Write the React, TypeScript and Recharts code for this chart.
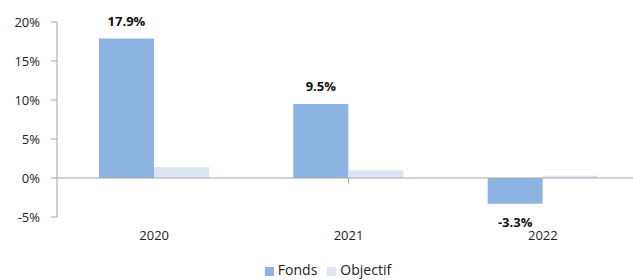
import React from 'react'
import { BarChart, Bar, XAxis, YAxis, Legend, ReferenceLine, LabelList } from 'recharts'

const years = ['2020', '2021', '2022']
const fonds = [17.9, 9.5, -3.3]
const objectif = [1.4, 1.0, 0.3]
const yTicks = [-5, 0, 5, 10, 15, 20]

const data = years.map((year, i) => ({ year, fonds: fonds[i], objectif: objectif[i] }))

const font = "'Open Sans', sans-serif"
const axisColor = '#a6a6a6'

const ValueLabel = (props: any) => {
  const { x, y, width, height, value } = props
  const neg = value < 0
  const cx = x + width / 2
  // y + height is the far end of the bar; for negatives that is below the zero line
  const top = Math.min(y, y + height)
  const bottom = Math.max(y, y + height)
  return (
    <text
      x={cx}
      y={neg ? bottom + 20 : top - 16}
      textAnchor="middle"
      dominantBaseline="middle"
      fontFamily={font}
      fontSize={13}
      fontWeight={700}
      fill="#111"
    >
      {value.toFixed(1) + '%'}
    </text>
  )
}

export default function App() {
  return (
    <div style={{ position: 'absolute', left: 0, top: 0, width: 633, height: 280, overflow: 'hidden', background: '#fff' }}>
      <BarChart
        width={640}
        height={280}
        data={data}
        margin={{ top: 22, right: 0, bottom: 0, left: 0 }}
        barCategoryGap="21.6%"
        barGap={0}
      >
        <XAxis
          dataKey="year"
          axisLine={false}
          tickLine={false}
          tickSize={0}
          tickMargin={14}
          height={43}
          tick={{ fontFamily: font, fontSize: 13, fill: '#222' }}
        />
        <XAxis xAxisId="grid" type="number" domain={[0, 3]} hide />
        <YAxis
          domain={[-5, 20]}
          ticks={yTicks}
          interval={0}
          width={57}
          tickSize={6}
          tickMargin={11}
          tickFormatter={(v: number) => v + '%'}
          axisLine={{ stroke: axisColor }}
          tickLine={{ stroke: axisColor }}
          tick={{ fontFamily: font, fontSize: 13, fill: '#222' }}
        />
        <ReferenceLine y={0} stroke={axisColor} />
        {[1, 2].map((b) => (
          <ReferenceLine
            key={b}
            xAxisId="grid"
            stroke={axisColor}
            segment={[{ x: b, y: 0 }, { x: b, y: -0.7 }]}
          />
        ))}
        <Legend
          verticalAlign="bottom"
          align="center"
          iconType="square"
          iconSize={9}
          height={20}
          wrapperStyle={{ fontFamily: font, fontSize: 14, paddingLeft: 13 }}
          formatter={(v: string) => <span style={{ color: '#222' }}>{v}</span>}
        />
        <Bar dataKey="fonds" name="Fonds" fill="#8db3e2" isAnimationActive={false}>
          <LabelList dataKey="fonds" content={ValueLabel} />
        </Bar>
        <Bar dataKey="objectif" name="Objectif" fill="#dce6f2" isAnimationActive={false} />
      </BarChart>
    </div>
  )
}
